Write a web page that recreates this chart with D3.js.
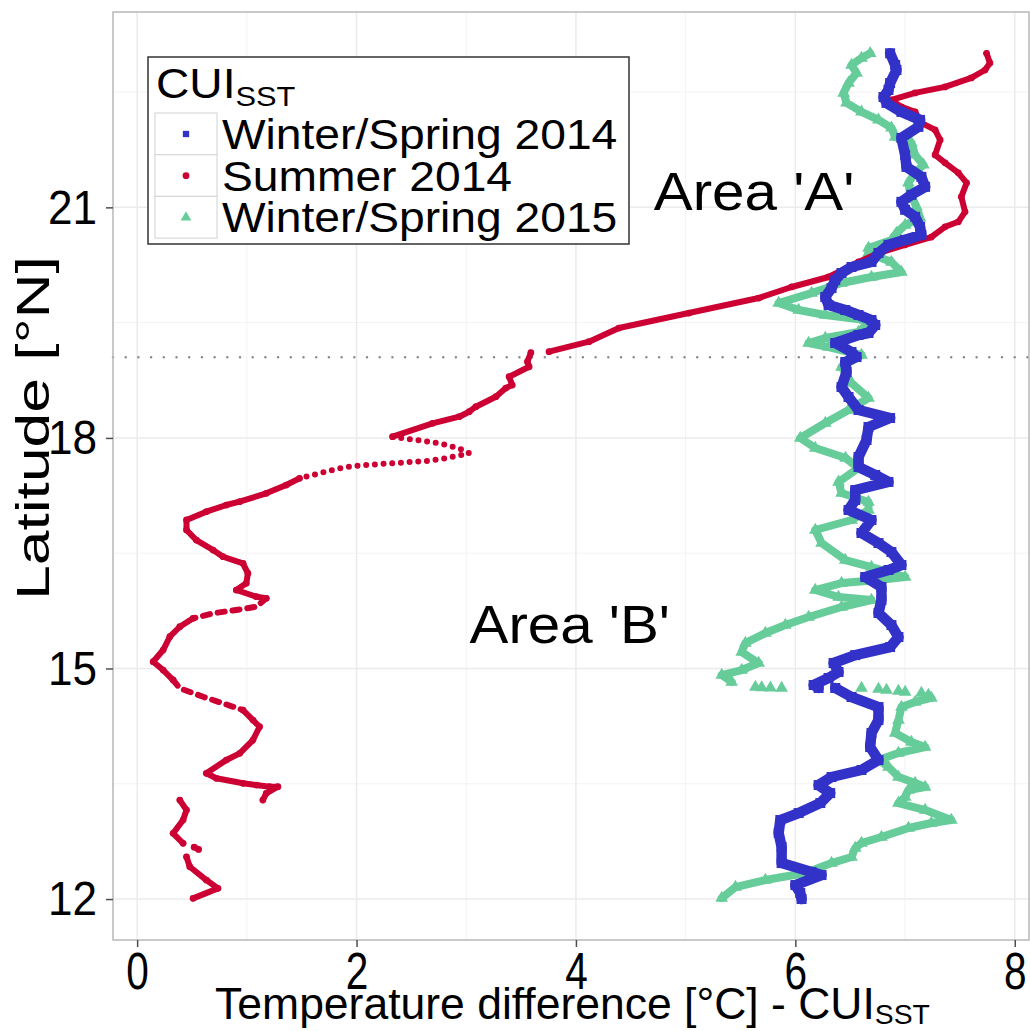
<!DOCTYPE html>
<html>
<head>
<meta charset="utf-8">
<script src="https://cdn.jsdelivr.net/npm/d3@7"></script>
<style>
  body { margin: 0; background: #fff; }
  text { font-family: "Liberation Sans", Arial, sans-serif; }
</style>
</head>
<body>
<div id="chart"></div>
<script>
// ---- data: each series is a list of track segments, points are [latitude, temperature difference]
const seriesNames = ["Winter/Spring 2014", "Summer 2014", "Winter/Spring 2015"];

const winter2014 = [
  [[23.005,6.864],[22.852,6.910],[22.787,6.922],[22.618,6.864],[22.527,6.849],[22.436,6.804],[22.359,6.831],
   [22.242,6.967],[22.138,7.137],[22.047,7.122],[21.904,6.967],[21.682,7.001],[21.526,7.013],[21.397,7.149],
   [21.267,7.183],[21.163,7.058],[21.072,6.967],[20.968,7.001],[20.877,7.092],[20.747,7.137],[20.642,7.149],
   [20.577,7.001],[20.512,6.849],[20.406,6.758],[20.289,6.694],[20.224,6.512],[20.146,6.421],[20.054,6.364],
   [19.950,6.330],[19.833,6.273],[19.729,6.303],[19.664,6.455],[19.599,6.576],[19.534,6.694],[19.469,6.728],
   [19.365,6.667],[19.339,6.576],[19.235,6.364],[19.118,6.512],[19.053,6.558],[18.988,6.455],[18.858,6.467],
   [18.662,6.421],[18.532,6.485],[18.363,6.576],[18.259,6.864],[18.142,6.667],[17.973,6.649],[17.752,6.576],
   [17.622,6.576],[17.518,6.728],[17.427,6.849],[17.322,6.546],[17.192,6.546],[17.062,6.485],[16.932,6.694],
   [16.763,6.603],[16.632,6.758],[16.515,6.876],[16.346,6.967],[16.281,6.849],[16.190,6.637],[16.060,6.785],
   [15.891,6.785],[15.722,6.758],[15.565,6.876],[15.409,6.940],[15.279,6.864],[15.174,6.546],[15.071,6.349],
   [14.954,6.394],[14.876,6.303],[14.785,6.167],[14.746,6.212]],
  [[14.746,6.364],[14.629,6.512],[14.498,6.758],[14.329,6.758],[14.160,6.694],[13.978,6.682],[13.809,6.758],
   [13.679,6.603],[13.588,6.330],[13.483,6.212],[13.379,6.318],[13.249,6.228],[13.119,6.030],[13.028,5.863],
   [12.859,5.848],[12.677,5.875],[12.468,5.875],[12.351,6.148],[12.312,6.239],[12.182,6.000],[12.078,6.045],
   [12.000,6.057]]
];

const summer2014 = [
  [[23.005,7.743],[22.878,7.774],[22.787,7.729],[22.684,7.604],[22.567,7.365],[22.489,7.092],[22.398,6.876],
   [22.307,6.967],[22.242,7.092],[22.099,7.149],[22.008,7.274],[21.878,7.320],[21.682,7.274],[21.579,7.365],
   [21.449,7.486],[21.319,7.561],[21.137,7.513],[20.942,7.547],[20.812,7.486],[20.747,7.365],[20.614,7.240],
   [20.512,7.001],[20.406,6.758],[20.289,6.576],[20.094,6.303],[19.964,5.966],[19.820,5.666],[19.625,5.029],
   [19.430,4.392],[19.252,4.119],[19.122,3.755]],
  [[19.109,3.589],[18.992,3.558],[18.926,3.573],[18.796,3.391],[18.688,3.419],[18.649,3.361],[18.536,3.270],
   [18.406,3.088],[18.341,3.027],[18.276,2.936],[18.190,2.693],[18.016,2.329]],
  [[18.016,2.329],[17.973,2.542],[17.930,2.754],[17.865,2.936],[17.800,3.027],[17.735,2.815],[17.699,2.633],
   [17.669,2.299],[17.638,1.996],[17.604,1.844],[17.539,1.662],[17.474,1.480]],
  [[17.474,1.480],[17.387,1.359],[17.279,1.177],[17.170,0.934],[17.127,0.813],[17.040,0.631],[16.932,0.450],
   [16.802,0.450],[16.671,0.540],[16.541,0.692],[16.454,0.783],[16.368,0.965],[16.238,1.010],[16.108,0.995],
   [16.021,0.904],[15.934,1.086],[15.913,1.177]],
  [[15.913,1.177],[15.803,1.086],[15.761,0.904],[15.718,0.692],[15.653,0.510]],
  [[15.653,0.510],[15.543,0.389],[15.413,0.298],[15.240,0.237],[15.088,0.146],[14.980,0.237],[14.850,0.328]],
  [[14.850,0.328],[14.742,0.389],[14.632,0.601],[14.546,0.783],[14.459,0.965]],
  [[14.459,0.965],[14.329,1.056],[14.242,1.116],[14.069,1.056],[13.896,0.935],[13.809,0.813],[13.636,0.631],
   [13.571,0.722],[13.506,0.965],[13.483,1.086],[13.461,1.207],[13.461,1.283],[13.375,1.177],[13.288,1.146]],
  [[13.288,0.389],[13.158,0.450],[13.028,0.419],[12.855,0.328],[12.725,0.419]],
  [[12.675,0.520],[12.645,0.560]],
  [[12.550,0.450],[12.420,0.480],[12.247,0.631],[12.139,0.737],[12.009,0.510]]
];

const winter2015 = [
  [[23.005,6.682],[22.943,6.603],[22.852,6.512],[22.748,6.558],[22.618,6.485],[22.488,6.440],[22.359,6.467],
   [22.242,6.603],[22.138,6.758],[22.034,6.876],[21.916,6.910],[21.838,7.058],[21.682,7.092],[21.553,7.167],
   [21.449,7.092],[21.319,7.031],[21.189,7.046],[21.007,7.104],[20.864,7.137],[20.770,7.001],[20.666,6.922],
   [20.575,6.876],[20.471,6.667],[20.406,6.667],[20.289,6.876],[20.159,6.967],[20.094,6.694],[20.016,6.421],
   [19.885,6.148],[19.755,5.848],[19.664,6.030],[19.599,6.273],[19.534,6.637],[19.495,6.667],[19.378,6.576],
   [19.300,6.273],[19.235,6.121],[19.183,6.303],[19.079,6.603],[18.923,6.421],[18.714,6.512],[18.519,6.667],
   [18.363,6.485],[18.194,6.273],[17.999,6.045],[17.869,6.182],[17.739,6.458],[17.609,6.576],[17.427,6.394],
   [17.283,6.421],[17.166,6.667],[17.062,6.667],[16.932,6.512],[16.802,6.182],[16.632,6.239],[16.411,6.455],
   [16.320,6.694],[16.190,7.001],[16.151,6.758],[16.112,6.421],[16.021,6.182],[15.930,6.394],[15.891,6.694],
   [15.800,6.421],[15.670,6.121],[15.565,5.909],[15.461,5.727],[15.331,5.545],[15.214,5.511],[15.071,5.666],
   [14.980,5.511],[14.915,5.329],[14.824,5.420]],
  [[14.759,5.636],[14.752,5.693],[14.748,5.773],[14.746,5.875]],
  [[14.746,6.603],[14.733,6.758],[14.720,6.831],[14.707,6.940],[14.694,7.001],[14.681,7.149]],
  [[14.655,7.213],[14.616,7.240],[14.564,7.092],[14.498,6.967],[14.329,6.940],[14.160,6.910],[14.043,7.058],
   [13.978,7.183],[13.900,6.940],[13.809,6.758],[13.718,6.849],[13.588,6.940],[13.509,7.092],[13.457,7.183],
   [13.418,7.031],[13.327,7.001],[13.249,6.940],[13.158,7.183],[13.028,7.422],[12.989,7.240],[12.924,7.031],
   [12.807,6.785],[12.729,6.603],[12.664,6.546],[12.547,6.512],[12.468,6.330],[12.338,6.091],[12.247,5.727],
   [12.156,5.454],[12.013,5.329]]
];

const xTicks = [0, 2, 4, 6, 8];
const yTicks = [12, 15, 18, 21];
const xMinor = [1, 3, 5, 7];
const yMinor = [13.5, 16.5, 19.5, 22.5];
const cutLatitude = 19.05;
const areaLabels = [{ text: "Area 'A'", t: 4.71, lat: 20.97 }, { text: "Area 'B'", t: 3.03, lat: 15.33 }];

// ---- look
const colors = { w14: "#3232c8", s14: "#cc0033", w15: "#66cc99" };
// how each segment is drawn: line, dotted, dashed or markers only
const w14Styles = ["line", "line"];
const s14Styles = ["line", "line", "dotted", "line", "dashed", "line", "dashed", "line", "line", "line", "line"];
const w15Styles = ["line", "markers", "markers", "line"];

const width = 1030, height = 1031;
const margin = { top: 12, right: 1, bottom: 91, left: 113 };

const x = d3.scaleLinear().domain([-0.22, 8.13]).range([margin.left, width - margin.right]);
const y = d3.scaleLinear().domain([11.467, 23.542]).range([height - margin.bottom, margin.top]);

const svg = d3.select("#chart").append("svg")
  .attr("width", width).attr("height", height)
  .attr("viewBox", [0, 0, width, height]);

// horizontal squeeze / stretch of a text around anchor ax
function stretch(sel, k, ax) {
  sel.attr("transform", `translate(${ax},0) scale(${k},1) translate(${-ax},0)`);
}
// stretch a text so that its box spans x0..x1
function fitX(sel, x0, x1) {
  const b = sel.node().getBBox();
  sel.attr("transform", `translate(${x0},0) scale(${(x1 - x0) / b.width},1) translate(${-b.x},0)`);
}

const panel = svg.append("g");

// grid
panel.selectAll(".gx-minor").data(xMinor).join("line")
  .attr("x1", d => x(d)).attr("x2", d => x(d)).attr("y1", margin.top).attr("y2", height - margin.bottom)
  .attr("stroke", "#f3f3f3").attr("stroke-width", 1);
panel.selectAll(".gy-minor").data(yMinor).join("line")
  .attr("y1", d => y(d)).attr("y2", d => y(d)).attr("x1", margin.left).attr("x2", width - margin.right)
  .attr("stroke", "#f3f3f3").attr("stroke-width", 1);
panel.selectAll(".gx").data(xTicks).join("line")
  .attr("x1", d => x(d)).attr("x2", d => x(d)).attr("y1", margin.top).attr("y2", height - margin.bottom)
  .attr("stroke", "#ebebeb").attr("stroke-width", 1.5);
panel.selectAll(".gy").data(yTicks).join("line")
  .attr("y1", d => y(d)).attr("y2", d => y(d)).attr("x1", margin.left).attr("x2", width - margin.right)
  .attr("stroke", "#ebebeb").attr("stroke-width", 1.5);

// dotted cut line
panel.append("line")
  .attr("x1", margin.left).attr("x2", width - margin.right)
  .attr("y1", y(cutLatitude)).attr("y2", y(cutLatitude))
  .attr("stroke", "#8a8a8a").attr("stroke-width", 2.5)
  .attr("stroke-linecap", "round").attr("stroke-dasharray", "0 12.7");

const line = d3.line().x(d => x(d[1])).y(d => y(d[0]));

function drawSeries(segments, styles, color, lineWidth, symbol, symbolSize) {
  const g = panel.append("g");
  segments.forEach((seg, i) => {
    const style = styles[i];
    if (style === "line" || style === "dotted" || style === "dashed") {
      const p = g.append("path").attr("d", line(seg))
        .attr("fill", "none").attr("stroke", color)
        .attr("stroke-width", lineWidth)
        .attr("stroke-linejoin", "round").attr("stroke-linecap", "round");
      if (style === "dotted") p.attr("stroke-dasharray", "0 " + (lineWidth * 1.45));
      if (style === "dashed") p.attr("stroke-dasharray", (lineWidth * 1.2) + " " + (lineWidth * 1.3));
    }
    if (style !== "dotted" && style !== "dashed") {
      g.selectAll(null).data(seg).join("path")
        .attr("transform", d => `translate(${x(d[1])},${y(d[0])})`)
        .attr("d", d3.symbol(symbol, symbolSize)())
        .attr("fill", color);
    }
  });
}

drawSeries(winter2015, w15Styles, colors.w15, 8, d3.symbolTriangle, 70);
drawSeries(summer2014, s14Styles, colors.s14, 6, d3.symbolCircle, 36);
drawSeries(winter2014, w14Styles, colors.w14, 10.5, d3.symbolSquare, 100);

// area labels
svg.selectAll(".area").data(areaLabels).join("text")
  .attr("x", d => x(d.t)).attr("y", d => y(d.lat))
  .attr("font-size", 53).attr("fill", "#000")
  .text(d => d.text)
  .each(function (d) { stretch(d3.select(this), 1.1, x(d.t)); });

// panel border
svg.append("rect")
  .attr("x", margin.left).attr("y", margin.top)
  .attr("width", width - margin.right - margin.left)
  .attr("height", height - margin.bottom - margin.top)
  .attr("fill", "none").attr("stroke", "#b8b8b8").attr("stroke-width", 1.5);

// axes
const xAxis = svg.append("g")
  .attr("transform", `translate(0,${height - margin.bottom})`)
  .call(d3.axisBottom(x).tickValues(xTicks).tickSize(7).tickPadding(5).tickFormat(d3.format("d")));
const yAxis = svg.append("g")
  .attr("transform", `translate(${margin.left},0)`)
  .call(d3.axisLeft(y).tickValues(yTicks).tickSize(7).tickPadding(9).tickFormat(d3.format("d")));
[xAxis, yAxis].forEach(a => {
  a.select(".domain").remove();
  a.selectAll(".tick line").attr("stroke", "#4d4d4d").attr("stroke-width", 1.5);
  a.selectAll(".tick text").attr("fill", "#000")
    .style("font-family", '"Liberation Sans", Arial, sans-serif');
});
xAxis.selectAll(".tick text").attr("font-size", 52).each(function () { stretch(d3.select(this), 0.78, 0); });
yAxis.selectAll(".tick text").attr("font-size", 49).each(function () { stretch(d3.select(this), 0.9, -16); });

// axis titles
const xTitle = svg.append("text")
  .attr("x", (margin.left + width - margin.right) / 2).attr("y", 1019)
  .attr("text-anchor", "middle").attr("font-size", 44);
xTitle.append("tspan").text("Temperature difference [°C] - CUI");
xTitle.append("tspan").attr("font-size", 28).attr("dy", 5).text("SST");
fitX(xTitle, 215, 930);

const yTitleG = svg.append("g").attr("transform", "translate(49,428) rotate(-90)");
const yTitle = yTitleG.append("text").attr("x", 0).attr("y", 0)
  .attr("text-anchor", "middle").attr("font-size", 47)
  .text("Latitude [°N]");
fitX(yTitle, -172, 172);

// legend
const legend = svg.append("g").attr("transform", "translate(148,57)");
legend.append("rect").attr("width", 481).attr("height", 187)
  .attr("fill", "#fff").attr("stroke", "#333").attr("stroke-width", 1.5);
const lt = legend.append("text").attr("x", 8).attr("y", 41).attr("font-size", 42);
lt.append("tspan").text("CUI");
lt.append("tspan").attr("font-size", 28).attr("dy", 8).text("SST");
stretch(lt, 1.1, 8);

const keys = [
  { name: seriesNames[0], color: colors.w14, symbol: d3.symbolSquare, size: 40 },
  { name: seriesNames[1], color: colors.s14, symbol: d3.symbolCircle, size: 36 },
  { name: seriesNames[2], color: colors.w15, symbol: d3.symbolTriangle, size: 50 }
];
const row = legend.selectAll(".key").data(keys).join("g")
  .attr("transform", (d, i) => `translate(7,${56 + i * 41.7})`);
row.append("rect").attr("width", 62).attr("height", 41.7)
  .attr("fill", "#fff").attr("stroke", "#d9d9d9").attr("stroke-width", 1.2);
row.append("path").attr("transform", "translate(31,21)")
  .attr("d", d => d3.symbol(d.symbol, d.size)()).attr("fill", d => d.color);
row.append("text").attr("x", 67).attr("y", 36).attr("font-size", 42).text(d => d.name)
  .each(function () { stretch(d3.select(this), 1.1, 67); });
</script>
</body>
</html>
